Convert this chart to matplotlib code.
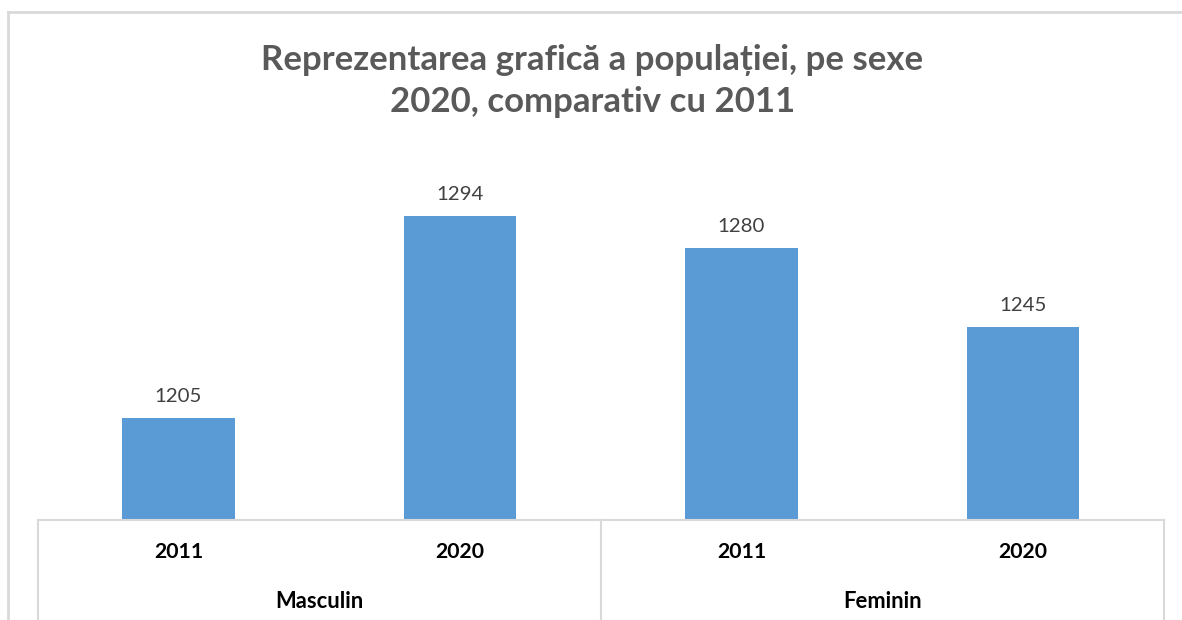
import matplotlib
matplotlib.use("Agg")
import matplotlib.pyplot as plt
import matplotlib.transforms as mtransforms
from matplotlib.lines import Line2D

# Data
years = ["2011", "2020", "2011", "2020"]
groups = ["Masculin", "Feminin"]
values = [1205, 1294, 1280, 1245]
title_lines = ["Reprezentarea grafică a populației, pe sexe", "2020, comparativ cu 2011"]

W, H = 1182, 620
fig = plt.figure(figsize=(W / 100, H / 100), dpi=100)
fig.patch.set_facecolor("white")

left_px, right_px = 37.75, 1163.75
base_px, top_px = 520, 170
ax = fig.add_axes([left_px / W, (H - base_px) / H, (right_px - left_px) / W, (base_px - top_px) / H])

x = list(range(len(values)))
ax.bar(x, values, width=0.4, color="#5B9BD5", zorder=2)
ax.set_xlim(-0.5, len(values) - 0.5)
ax.set_ylim(1160, 1160 + (base_px - top_px) / 2.27)
ax.set_xticks([])
ax.set_yticks([])
for s in ["top", "left", "right", "bottom"]:
    ax.spines[s].set_visible(False)

for xi, v in zip(x, values):
    ax.annotate(str(v), (xi, v), xytext=(0, 11.5), textcoords="offset points",
                ha="center", va="baseline", fontsize=14.7, color="#404040",
                family="Lato")

# category axis lines
lc = "#D9D9D9"
ax.axhline(1160, color=lc, lw=1.5, zorder=3, clip_on=False)
trans = mtransforms.blended_transform_factory(ax.transData, fig.transFigure)
for xv in [-0.5, 1.5, 3.5]:
    ax.add_line(Line2D([xv, xv], [(H - base_px) / H, 0], transform=trans,
                       color=lc, lw=1.5, clip_on=False))

for xi, yl in zip(x, years):
    ax.text(xi, (H - 552) / H, yl, transform=trans, ha="center", va="center",
            fontsize=15.3, fontweight="bold", color="#000000", family="Lato")
for gi, g in enumerate(groups):
    ax.text(gi * 2 + 0.5, (H - 601) / H, g, transform=trans, ha="center", va="center",
            fontsize=15.8, fontweight="bold", color="#000000", family="Lato")

# title
fig.text(0.5 + 1.5 / W, (H - 60) / H, title_lines[0], ha="center", va="center",
         fontsize=25, fontweight="bold", color="#595959", family="Lato")
fig.text(0.5 + 1.5 / W, (H - 102) / H, title_lines[1], ha="center", va="center",
         fontsize=25, fontweight="bold", color="#595959", family="Lato")

# outer chart border (partially visible)
fig.add_artist(Line2D([8 / W, 1.0], [(H - 12) / H, (H - 12) / H], transform=fig.transFigure,
                      color=lc, lw=2))
fig.add_artist(Line2D([8 / W, 8 / W], [(H - 12) / H, 0], transform=fig.transFigure,
                      color=lc, lw=2))

fig.savefig("out.png", dpi=100, facecolor="white")
